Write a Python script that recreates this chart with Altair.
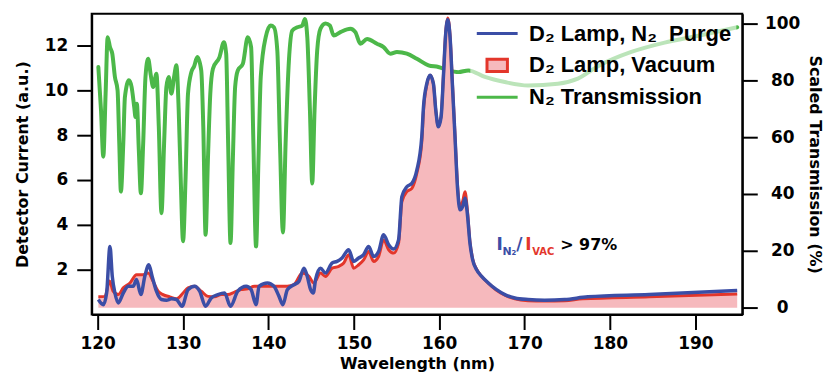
import altair as alt
import pandas as pd

# ---------------- data ----------------
trans_wl = [120.08, 120.39, 120.66, 120.93, 121.17, 121.44, 121.71, 122.02, 122.33, 122.53,
            122.72, 123.0, 123.19, 123.66, 123.97, 124.28, 124.43, 124.59, 124.82, 125.06,
            125.33, 125.6, 125.91, 126.22, 126.5, 126.88, 127.16, 127.47, 127.78, 128.05,
            128.32, 128.63, 128.95, 129.22, 129.49, 129.72, 130.0, 130.3, 130.58, 130.97,
            131.3, 131.67, 132.13, 132.37, 132.64, 132.91, 133.19, 133.5, 134.27, 134.78,
            135.05, 135.28, 135.56, 135.83, 136.1, 136.41, 137.0, 137.58, 137.97, 138.24,
            138.55, 138.83, 139.1, 139.68, 140.26, 140.65, 141.04, 141.35, 141.7, 142.01,
            142.4, 142.79, 143.38, 143.96, 144.27, 144.55, 144.86, 145.13, 145.4, 145.71,
            146.1, 146.68, 147.19, 147.65, 148.43, 149.6, 150.18, 150.77, 151.55, 152.71,
            153.49, 154.27, 155.05, 156.21, 157.38, 158.74, 159.9, 161.07, 162.24, 163.41,
            165.35, 167.69, 170.41, 173.9, 176.24, 178.6, 182.5, 186.4, 190.2, 194.9]
trans_pct = [84.7, 69.5, 53.1, 75.3, 95.2, 91.7, 89.4, 81.2, 76.5, 57.8,
             40.8, 57.8, 74.1, 80.0, 77.7, 70.6, 67.1, 71.8, 55.4, 40.2,
             57.8, 81.2, 87.6, 81.8, 77.7, 82.3, 63.6, 33.2, 57.8, 77.7,
             81.2, 75.3, 81.2, 85.3, 69.5, 46.1, 23.3, 46.1, 75.3, 82.9,
             85.0, 88.2, 83.5, 63.6, 25.6, 51.9, 75.3, 84.1, 88.2, 93.4,
             89.4, 57.8, 22.7, 51.9, 77.7, 83.5, 85.8, 95.2, 91.7, 57.8,
             21.5, 51.9, 81.2, 95.2, 99.3, 98.7, 90.5, 57.8, 26.4, 57.8,
             87.0, 97.5, 98.7, 99.3, 101.6, 95.2, 69.5, 43.7, 69.5, 90.5,
             98.2, 100.0, 99.3, 95.8, 97.0, 98.2, 97.0, 92.9, 94.6, 92.9,
             91.7, 89.4, 90.0, 89.4, 87.6, 85.3, 84.7, 83.5, 82.9, 83.5,
             81.2, 79.4, 78.2, 78.8, 80.6, 85.0, 90.0, 93.3, 95.6, 98.7]

purge_wl = [120.08, 120.66, 121.05, 121.44, 121.71, 122.02, 122.41, 123.0, 123.58, 124.16,
            124.55, 125.06, 125.52, 125.99, 126.38, 126.88, 127.47, 128.05, 128.63, 129.22,
            129.88, 130.58, 131.36, 131.94, 132.64, 133.3, 134.08, 134.86, 135.56, 136.41,
            137.39, 137.97, 138.55, 138.9, 139.88, 140.65, 141.24, 141.7, 142.21, 142.99,
            143.57, 144.16, 144.55, 144.94, 145.25, 145.52, 146.1, 146.68, 147.46, 148.04,
            148.62, 149.4, 149.98, 150.57, 151.15, 151.74, 152.32, 152.9, 153.49, 154.08,
            154.66, 155.24, 155.63, 156.21, 156.8, 157.38, 157.96, 158.16, 158.55, 158.93,
            159.32, 159.6, 159.9, 160.22, 160.49, 160.76, 161.0, 161.27, 161.54, 161.85,
            162.16, 162.44, 162.75, 163.02, 163.29, 163.6, 163.92, 164.38, 164.97, 165.75,
            166.72, 167.69, 168.86, 170.41, 172.35, 174.69, 177.41, 184.6, 194.9]
purge_cur = [0.67, 0.44, 0.96, 3.04, 1.7, 0.96, 0.52, 0.96, 1.26, 1.26,
             1.56, 0.89, 1.7, 2.22, 1.7, 1.04, 0.67, 0.64, 0.7, 0.67,
             0.37, 1.11, 1.26, 1.04, 0.37, 0.74, 0.89, 0.96, 0.37, 1.04,
             1.26, 1.11, 0.44, 1.26, 1.41, 1.26, 0.81, 0.44, 1.11, 1.33,
             1.48, 2.07, 1.7, 1.11, 0.96, 1.56, 2.07, 1.85, 2.3, 2.37,
             2.52, 2.89, 2.37, 2.52, 2.67, 3.04, 2.59, 2.81, 3.56, 3.11,
             2.92, 3.33, 5.26, 5.7, 5.85, 6.44, 7.93, 9.26, 10.3, 10.67,
             10.3, 9.11, 8.37, 8.81, 10.59, 12.52, 13.15, 12.37, 10.3, 7.93,
             5.56, 4.67, 4.81, 5.19, 4.52, 3.19, 2.44, 2.0, 1.7, 1.41,
             1.11, 0.89, 0.74, 0.67, 0.64, 0.67, 0.79, 0.89, 1.07]

vac_wl = [120.08, 120.85, 121.4, 121.8, 122.41, 123.0, 123.78, 124.55, 125.33, 125.91,
          126.5, 127.08, 127.66, 128.44, 129.22, 130.0, 130.58, 131.36, 132.13, 132.91,
          133.69, 134.47, 135.25, 136.03, 136.8, 137.58, 138.36, 139.14, 139.88, 141.43,
          142.21, 142.99, 143.96, 144.74, 145.33, 146.1, 146.68, 147.46, 148.24, 148.82,
          149.4, 149.98, 150.57, 151.15, 151.74, 152.32, 152.9, 153.49, 154.08, 154.66,
          155.24, 155.63, 156.21, 156.8, 157.38, 157.96, 158.16, 158.55, 158.93, 159.32,
          159.6, 159.9, 160.22, 160.49, 160.76, 161.0, 161.27, 161.54, 161.85, 162.16,
          162.44, 162.75, 163.02, 163.29, 163.6, 163.92, 164.38, 164.97, 165.75, 166.72,
          167.69, 168.86, 170.41, 172.35, 174.69, 176.8, 184.6, 194.9]
vac_cur = [0.79, 0.81, 1.5, 1.05, 0.89, 1.19, 1.41, 1.78, 1.78, 1.85,
           1.48, 1.04, 0.89, 0.79, 0.7, 0.96, 1.19, 1.26, 1.04, 0.81,
           0.79, 0.89, 0.89, 1.0, 1.11, 1.15, 1.26, 1.26, 1.26, 1.26,
           1.26, 1.33, 1.85, 1.7, 1.41, 1.85, 1.7, 2.07, 2.15, 2.3,
           2.67, 2.07, 2.22, 2.44, 2.81, 2.37, 2.59, 3.33, 2.89, 2.74,
           3.19, 5.04, 5.48, 5.63, 6.3, 7.7, 9.1, 10.25, 10.67, 10.3,
           9.11, 8.4, 8.85, 10.65, 12.6, 13.23, 12.45, 10.4, 8.0, 5.7,
           4.8, 5.05, 5.48, 4.7, 3.25, 2.48, 2.02, 1.7, 1.4, 1.08,
           0.86, 0.7, 0.62, 0.6, 0.62, 0.7, 0.79, 0.92]

series_names = ["D\u2082 Lamp, N\u2082\u00a0 Purge", "D\u2082 Lamp, Vacuum", "N\u2082 Transmission"]
series_stroke = ["#3b4ea6", "#e3362b", "#4cb849"]
series_fill = ["#3b4ea6", "#f6b9bd", "#4cb849"]

ann_parts = ["I", "N\u2082", "/", "I", "VAC", "> 97%"]
ann_pos = {"wl": 166.7, "cur": 2.9}

x_ticks = [120, 130, 140, 150, 160, 170, 180, 190]
left_ticks = [2, 4, 6, 8, 10, 12]
right_ticks = [0, 20, 40, 60, 80, 100]

BLUE, RED, PINK, GREEN = series_stroke[0], series_stroke[1], series_fill[1], series_stroke[2]
FONT = "DejaVu Sans"

df_trans = pd.DataFrame({"wl": trans_wl, "tr": trans_pct})
df_purge = pd.DataFrame({"wl": purge_wl, "cur": purge_cur})
df_vac = pd.DataFrame({"wl": vac_wl, "cur": vac_cur})
df_leg = pd.DataFrame({"series": series_names})

X = alt.X("wl:Q", title="Wavelength (nm)",
          scale=alt.Scale(domain=[119.3, 195.5], nice=False, zero=False),
          axis=alt.Axis(values=x_ticks, labelPadding=6, titlePadding=4))
YL = alt.Y("cur:Q", title="Detector Current (a.u.)",
           scale=alt.Scale(domain=[0, 13.42], nice=False, zero=False),
           axis=alt.Axis(orient="left", values=left_ticks, labelPadding=9, titlePadding=14))
YR = alt.Y("tr:Q", title="Scaled Transmission (%)",
           scale=alt.Scale(domain=[-2.5, 103.5], nice=False, zero=False),
           axis=alt.Axis(orient="right", values=right_ticks, labelAlign="center",
                         labelPadding=25, titlePadding=7))

green = alt.Chart(df_trans).mark_line(color=GREEN, strokeWidth=4, interpolate="monotone",
                                      strokeCap="round", strokeJoin="round").encode(x=X, y=YR)

area = alt.Chart(df_vac).mark_area(color=PINK, interpolate="monotone").encode(
    x=X, y=YL, y2=alt.datum(0.3))
red = alt.Chart(df_vac).mark_line(color=RED, strokeWidth=3, interpolate="monotone",
                                  strokeJoin="round").encode(x=X, y=YL)
blue = alt.Chart(df_purge).mark_line(color=BLUE, strokeWidth=3.5, interpolate="monotone",
                                     strokeJoin="round").encode(x=X, y=YL)

leg = alt.Legend(title=None, orient="none", legendX=380, legendY=2,
                 labelFont="Liberation Sans", labelFontSize=22, labelFontWeight="bold",
                 labelColor="black", symbolStrokeWidth=3, symbolSize=1681, symbolOpacity=1,
                 clipHeight=26, rowPadding=6, labelOffset=10, padding=5,
                 fillColor="rgba(255,255,255,0.62)", labelLimit=400)
legend_layer = alt.Chart(df_leg).mark_point(opacity=0).encode(
    shape=alt.Shape("series:N", legend=leg,
                    scale=alt.Scale(domain=series_names,
                                    range=["M-1,0H1", "M-0.5,-0.3H0.5V0.3H-0.5Z", "M-1,0H1"])),
    stroke=alt.Stroke("series:N", legend=leg,
                      scale=alt.Scale(domain=series_names, range=series_stroke)),
    fill=alt.Fill("series:N", legend=leg,
                  scale=alt.Scale(domain=series_names, range=series_fill)),
)

ann_style = [
    dict(dx=0, dy=0, fontSize=17, color=BLUE),
    dict(dx=6, dy=5, fontSize=11, color=BLUE),
    dict(dx=20, dy=0, fontSize=17, color=BLUE),
    dict(dx=29, dy=0, fontSize=17, color=RED),
    dict(dx=36, dy=5, fontSize=10, color=RED),
    dict(dx=64, dy=0, fontSize=16, color="black"),
]
ann_layers = []
for part, st in zip(ann_parts, ann_style):
    d = pd.DataFrame({"wl": [ann_pos["wl"]], "cur": [ann_pos["cur"]], "txt": [part]})
    ann_layers.append(
        alt.Chart(d).mark_text(align="left", baseline="alphabetic", font=FONT,
                               fontWeight="bold", **st).encode(x=X, y=YL, text="txt:N"))

left_group = alt.layer(area, red, blue, *ann_layers, legend_layer)

chart = alt.layer(green, left_group).resolve_scale(y="independent").properties(
    width=653, height=302, padding={"left": 6, "top": 5, "right": 6, "bottom": 0}
).configure_view(stroke="black", strokeWidth=2).configure_axis(
    grid=False, labelFont=FONT, labelFontWeight="bold", labelFontSize=17, labelColor="black",
    titleFont=FONT, titleFontWeight="bold", titleFontSize=16, titleColor="black",
    tickColor="black", tickWidth=2, tickSize=15, domainColor="black", domainWidth=2,
)

chart.save("out.html", embed_options={"renderer": "svg", "actions": False})
